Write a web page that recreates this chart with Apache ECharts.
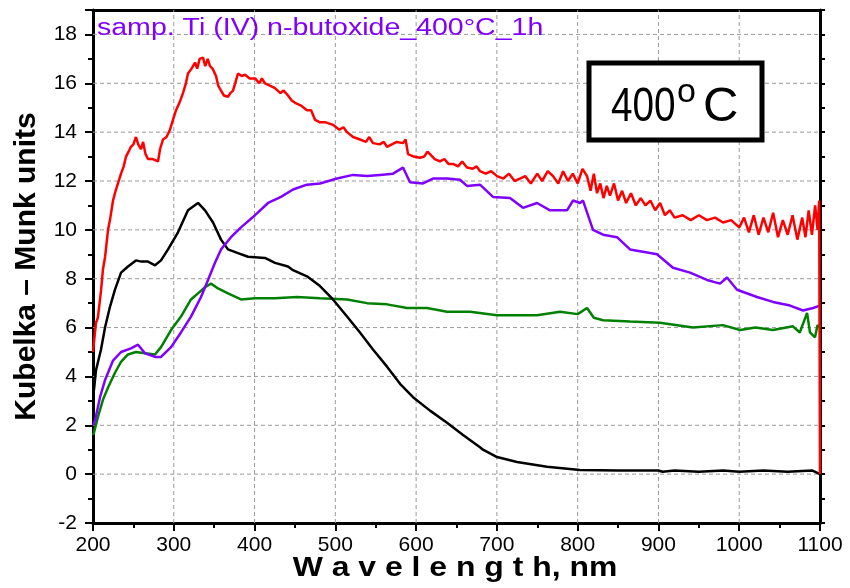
<!DOCTYPE html>
<html>
<head>
<meta charset="utf-8">
<script src="https://cdn.jsdelivr.net/npm/echarts@6/dist/echarts.min.js"></script>
<style>html,body{margin:0;padding:0;background:#fff}#c{width:850px;height:588px}</style>
</head>
<body>
<div id="c"></div>
<script>
const xTicks = [200,300,400,500,600,700,800,900,1000,1100];
const yTicks = [-2,0,2,4,6,8,10,12,14,16,18];
const xGrid = [300,400,500,600,700,800,900,1000];
const yGrid = [0,2,4,6,8,10,12,14,16,18];

const redData = [[200,5.0],[203.7,6.2],[206,6.4],[209.9,7.5],[212.4,8.4],[215,8.9],[218.6,10.0],[221,10.4],[224.8,11.2],[228,11.6],[234.7,12.3],[238,12.6],[240.9,13.0],[244,13.2],[247,13.4],[250,13.5],[253.2,13.8],[256,13.5],[259.4,13.3],[262,13.6],[265,13.1],[268.1,12.9],[274,12.9],[280.5,12.8],[283,13.3],[286.7,13.7],[291,13.8],[295.3,14.1],[299,14.5],[302.8,14.9],[307,15.2],[311.4,15.6],[315,16.0],[317.6,16.4],[322,16.6],[326.3,16.85],[329,16.6],[332,17.0],[336.2,17.05],[339,16.7],[342,17.0],[344.8,16.7],[348,16.6],[352.3,16.3],[355,15.9],[358.5,15.7],[362,15.5],[367.1,15.45],[370,15.6],[373.3,15.7],[376,16.0],[379.5,16.4],[384,16.3],[388.2,16.35],[394,16.2],[400.6,16.2],[406,16.0],[409,16.2],[412.9,16.0],[419,15.9],[425.3,15.8],[432,15.6],[436,15.7],[441.4,15.5],[446,15.3],[450.1,15.2],[457,15.1],[464.9,14.9],[470,14.9],[475,14.5],[481,14.4],[488,14.4],[497.1,14.3],[505,14.1],[510,14.2],[514.5,14.0],[522,13.8],[530.5,13.7],[538,13.6],[542,13.8],[546.6,13.55],[555,13.5],[560,13.6],[564,13.4],[570,13.5],[576,13.6],[583.8,13.55],[587,13.7],[590,13.1],[597,13.0],[604.8,12.95],[610,13.0],[614,13.2],[617.2,13.1],[623,12.9],[629.6,12.8],[635,12.9],[640,12.7],[645.7,12.7],[652,12.6],[657,12.8],[663,12.55],[670,12.5],[675,12.6],[679.1,12.4],[686,12.3],[693,12.4],[700.2,12.2],[708,12.1],[715,12.3],[722,12.0],[728.6,12.1],[735,12.2],[742,11.9],[750,12.3],[756,12.0],[763,12.4],[769.5,12.2],[776,11.9],[782,12.4],[788,12.0],[794,12.3],[800,11.9],[806,12.5],[811.6,12.2],[816,11.6],[820,12.3],[824,11.5],[828,11.9],[832,11.3],[836,11.8],[840,11.4],[845,11.9],[850,11.2],[855,11.6],[860,11.1],[866,11.5],[872,11.0],[878,11.3],[884,11.0],[890,11.2],[896,10.8],[902,11.1],[908,10.6],[914,10.8],[920,10.5],[930,10.6],[940,10.4],[950,10.6],[960,10.4],[970,10.5],[980,10.3],[990,10.4],[1000,10.1],[1006,10.5],[1012,9.9],[1018,10.6],[1024,9.8],[1030,10.5],[1036,9.9],[1042,10.7],[1048,9.7],[1054,10.4],[1060,9.8],[1066,10.6],[1072,9.6],[1078,10.5],[1082,9.7],[1086,10.8],[1090,9.8],[1094,11.0],[1097,10.0],[1099,11.2],[1100,0]];

const blackData = [[200,3.3],[201.2,3.45],[203.7,4.25],[209.9,5.1],[214.9,6.0],[221,6.85],[227.2,7.55],[234.7,8.25],[243.3,8.5],[253.2,8.75],[260,8.7],[268.1,8.7],[276.8,8.55],[284.2,8.75],[292.9,9.2],[305.2,9.9],[317.6,10.8],[330,11.1],[338.7,10.8],[348.6,10.3],[358.5,9.6],[367.1,9.2],[379.5,9.05],[391.9,8.9],[412.9,8.85],[425.3,8.65],[441.4,8.5],[447.6,8.35],[464.9,8.1],[481,7.7],[497.1,7.15],[514.5,6.45],[530.5,5.8],[546.6,5.1],[564,4.4],[580.1,3.7],[596.2,3.15],[617.2,2.6],[638.3,2.1],[658.1,1.6],[679.1,1.1],[682.8,1.0],[700.2,0.7],[724.9,0.5],[762,0.3],[802.9,0.17],[850,0.15],[900,0.15],[905,0.1],[920,0.15],[950,0.1],[980,0.15],[1000,0.1],[1030,0.15],[1060,0.1],[1090,0.15],[1100,0]];

const purpleData = [[200,2.0],[202.5,2.2],[208.7,3.15],[214.9,3.85],[224.8,4.65],[234.7,5.0],[247,5.15],[255.7,5.3],[264.4,4.95],[276.8,4.8],[284.2,4.8],[296.6,5.2],[308.9,5.8],[321.3,6.45],[333.7,7.25],[342.4,7.95],[351,8.65],[358.5,9.2],[370.8,9.7],[383.2,10.1],[400.6,10.6],[416.7,11.1],[432.7,11.35],[447.6,11.65],[464.9,11.85],[481,11.9],[502.1,12.1],[521.9,12.25],[539.2,12.2],[555.3,12.25],[571.4,12.3],[583.8,12.55],[592.4,11.95],[608.5,11.9],[620.9,12.1],[638.3,12.1],[654.3,12.05],[663,11.8],[679.1,11.85],[695.2,11.35],[716.2,11.3],[732.3,10.9],[749.7,11.1],[765.8,10.8],[786.8,10.8],[794.2,11.2],[802.9,11.1],[806.6,11.2],[819,10.0],[831.4,9.8],[848.7,9.7],[864.8,9.2],[889.6,9.05],[898.2,9.0],[918,8.45],[939.1,8.25],[960.1,7.95],[976.2,7.8],[984.9,8.05],[997.3,7.55],[1022,7.25],[1041.8,7.05],[1062.9,6.9],[1079,6.7],[1091.4,6.8],[1100,6.9]];

const greenData = [[200,1.6],[201.2,1.7],[206.2,2.35],[212.4,3.05],[218.6,3.55],[227.2,4.15],[234.7,4.6],[243.3,4.9],[253.2,5.0],[264.4,4.95],[276.8,4.9],[284.2,5.2],[296.6,5.9],[308.9,6.45],[321.3,7.15],[330,7.4],[338.7,7.65],[346.1,7.8],[354.8,7.6],[367.1,7.4],[383.2,7.15],[400.6,7.2],[425.3,7.2],[452.5,7.25],[481,7.2],[514.5,7.15],[539.2,7.0],[564,6.95],[588.7,6.8],[613.5,6.8],[638.3,6.65],[666.7,6.65],[700.2,6.5],[749.7,6.5],[778.2,6.65],[800,6.55],[811.6,6.8],[820,6.4],[831.4,6.3],[864.8,6.25],[901.9,6.2],[942.7,6.0],[979.9,6.1],[1001,5.9],[1020,6.0],[1041.8,5.9],[1066.5,6.05],[1075,5.8],[1084,6.6],[1087.6,5.8],[1093.8,5.6],[1097,6.1],[1100,6.0]];

const chart = echarts.init(document.getElementById('c'), null, {renderer:'canvas'});
const lineS = (name, data, color) => ({
  name, type:'line', data, showSymbol:false, symbol:'none',
  lineStyle:{color, width:2.5}, itemStyle:{color}, animation:false, z:3
});
const gridS = (data) => ({
  type:'line', data, showSymbol:false, symbol:'none', silent:true, z:1,
  lineStyle:{color:'#9a9a9a', width:1, type:[4,3]}, animation:false, tooltip:{show:false}
});
const gridSeries = xGrid.map(v => gridS([[v,-2],[v,19]]))
  .concat(yGrid.map(v => gridS([[200,v],[1100,v]])));

chart.setOption({
  animation:false,
  backgroundColor:'#fff',
  grid:{left:93, right:30, top:10, bottom:65, containLabel:false},
  xAxis:[{
    type:'value', min:200, max:1100, interval:100, position:'bottom',
    axisLine:{show:true, onZero:false, lineStyle:{color:'#000', width:3}},
    axisTick:{show:true, length:8, lineStyle:{color:'#000', width:2}},
    minorTick:{show:true, splitNumber:2, length:5, lineStyle:{color:'#000', width:2}},
    axisLabel:{color:'#000', fontSize:21, fontFamily:'Liberation Sans, Arial', margin:12,
      formatter:v => xTicks.includes(v) ? String(v) : ''},
    splitLine:{show:false}
  },{
    type:'value', min:200, max:1100, interval:100, position:'top',
    axisLine:{show:true, onZero:false, lineStyle:{color:'#000', width:3}},
    axisTick:{show:false}, axisLabel:{show:false}, splitLine:{show:false}
  }],
  yAxis:[{
    type:'value', min:-2, max:19, interval:2, position:'left',
    axisLine:{show:true, onZero:false, lineStyle:{color:'#000', width:3}},
    axisTick:{show:true, length:8, lineStyle:{color:'#000', width:2}},
    minorTick:{show:true, splitNumber:2, length:5, lineStyle:{color:'#000', width:2}},
    axisLabel:{color:'#000', fontSize:21, fontFamily:'Liberation Sans, Arial', margin:16,
      formatter:v => yTicks.includes(v) ? String(v) : ''},
    splitLine:{show:false},
    name:'Kubelka – Munk units', nameLocation:'middle', nameGap:51, nameRotate:90,
    nameTextStyle:{color:'#000', fontSize:30, fontWeight:'bold', fontFamily:'Liberation Sans, Arial'}
  },{
    type:'value', min:-2, max:19, interval:2, position:'right',
    axisLine:{show:true, onZero:false, lineStyle:{color:'#000', width:3}},
    axisTick:{show:true, length:5, lineStyle:{color:'#000', width:2}},
    minorTick:{show:true, splitNumber:2, length:5, lineStyle:{color:'#000', width:2}},
    axisLabel:{show:false}, splitLine:{show:false}
  }],
  series: gridSeries.concat([
    lineS('green', greenData, '#008000'),
    lineS('black', blackData, '#000000'),
    lineS('purple', purpleData, '#8000ff'),
    lineS('red', redData, '#ff0000')
  ]),
  graphic:[
    {type:'text', x:97, y:17, scaleX:1.24, z:10, style:{text:'samp. Ti (IV) n-butoxide_400\u00B0C_1h', fill:'#8000ff', font:'23px "Liberation Sans", Arial', textVerticalAlign:'top'}},
    {type:'text', x:455, y:554, scaleX:1.14, z:10, style:{text:'W a v e l e n g t h, nm', fill:'#000', font:'bold 28px "Liberation Sans", Arial', textAlign:'center', textVerticalAlign:'top'}},
    {type:'rect', shape:{x:589, y:63, width:173, height:77}, z:10, style:{fill:'#fff', stroke:'#000', lineWidth:5}},
    {type:'text', x:611, y:83, scaleX:0.79, z:11, style:{text:'400', fill:'#000', font:'49px "Liberation Sans", Arial'}},
    {type:'text', x:677, y:76, z:11, style:{text:'o', fill:'#000', font:'34px "Liberation Sans", Arial'}},
    {type:'text', x:703, y:83, z:11, style:{text:'C', fill:'#000', font:'49px "Liberation Sans", Arial'}}
  ]
});
</script>
</body>
</html>
